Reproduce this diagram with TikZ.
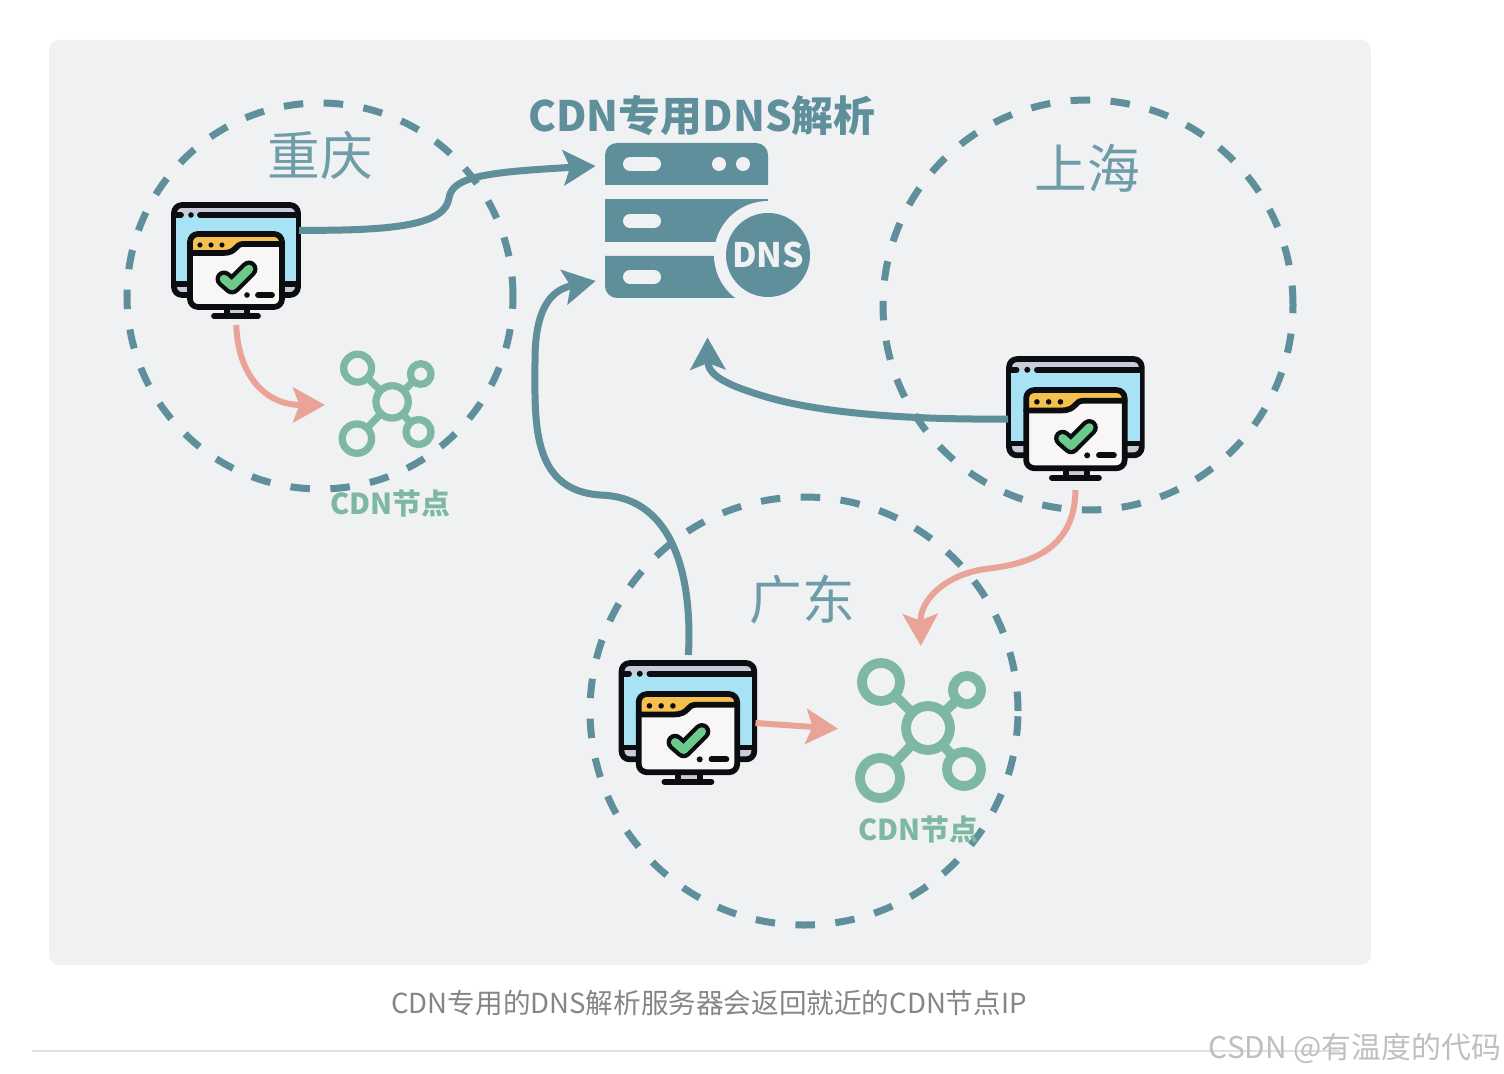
\documentclass[tikz,border=0pt]{standalone}
\usepackage{fontspec}
\setmainfont{Noto Sans CJK SC}
\usetikzlibrary{arrows.meta, positioning}
\definecolor{panelbg}{HTML}{EFF1F3}
\definecolor{dnsteal}{HTML}{5E8F9B}
\definecolor{zonetxt}{HTML}{6E9CA8}
\definecolor{cdngreen}{HTML}{7FB8A2}
\definecolor{arrowred}{HTML}{E9A397}
\definecolor{monblue}{HTML}{A8E2F5}
\definecolor{mongray}{HTML}{C9CBD9}
\definecolor{monyellow}{HTML}{F4C04E}
\definecolor{monpaper}{HTML}{F8F7F5}
\definecolor{moncheck}{HTML}{6CCB8B}
\definecolor{monink}{HTML}{0C0D10}
\tikzset{
  pics/monitor/.style={code={
    % screen
    \draw[moninkline, fill=mongray, rounded corners=1.6mm] (1,1) rectangle (125,91);
    \fill[monblue] (3,11) rectangle (123,80);
    \draw[moninkline] (2,80) -- (124,80);
    \draw[moninkline] (2,11) -- (8,11) (27,11) -- (124,11);
    \fill[monink] (18,11) circle[radius=2.8];
    % stand
    \draw[moninkline, fill=mongray] (54,100) rectangle (74,112);
    \draw[moninkline] (41,112) -- (85,112);
    % window
    \fill[monpaper, rounded corners=1.6mm] (17,30) rectangle (109,103);
    \fill[monyellow, rounded corners=1.6mm] (17,49) -- (17,30) -- (109,30) -- (109,42) -- (70,42)
      .. controls (62,42) and (64,49) .. (50,49) -- cycle;
    \draw[moninkline] (17,49) -- (50,49) .. controls (64,49) and (62,40) .. (70,40) -- (109,40);
    \draw[moninkline, rounded corners=1.6mm] (17,30) rectangle (109,103);
    \foreach \dotx in {27,38,49} \fill[monink] (\dotx,41) circle[radius=2.6];
    % check mark
    \draw[monink, line width=3.4mm, line cap=round, line join=round] (51,75) -- (59,82) -- (76,65);
    \draw[moncheck, line width=1.7mm, line cap=round, line join=round] (51,75) -- (59,82) -- (76,65);
    \fill[monink] (74,91) circle[radius=2.8];
    \draw[moninkline] (85,91) -- (99,91);
  }},
  pics/cdnicon/.style={code={
    \draw[line width=#1, cdngreen] (71,68) -- (24,22) (71,68) -- (110,30)
      (71,68) -- (23,118) (71,68) -- (107,109);
    \draw[line width=#1, cdngreen, fill=panelbg] (71,68) circle[radius=22];
    \draw[line width=#1, cdngreen, fill=panelbg] (24,22) circle[radius=19];
    \draw[line width=#1, cdngreen, fill=panelbg] (110,30) circle[radius=14];
    \draw[line width=#1, cdngreen, fill=panelbg] (23,118) circle[radius=20];
    \draw[line width=#1, cdngreen, fill=panelbg] (107,109) circle[radius=17];
  }}
}
\begin{document}
\begin{tikzpicture}[
    x=0.2mm, y=-0.2mm,
    moninkline/.style={draw=monink, line width=1.15mm, line cap=round, line join=round},
    zone/.style={circle, draw=dnsteal, line width=1.4mm, dash pattern=on 3.9mm off 4.1mm, inner sep=0pt},
    zonename/.style={text=zonetxt, font=\fontsize{30}{30}\selectfont},
    cdnname/.style={text=cdngreen, font=\fontsize{16.4}{16.4}\selectfont\bfseries},
    iconbox/.style={inner sep=0pt, outer sep=0pt},
    tealarr/.style={-{Stealth[length=6.4mm, width=7mm, inset=1.3mm]}, line width=1.4mm, dnsteal},
    redarr/.style={-{Stealth[length=6.4mm, width=7mm, inset=1.3mm]}, line width=1.2mm, arrowred}
  ]
  \useasboundingbox (0,0) rectangle (1504,1074);
  \fill[white] (0,0) rectangle (1504,1074);
  \fill[panelbg, rounded corners=2mm] (49,40) rectangle (1371,965);

  % regions
  \node[zone, minimum size=77.2mm] (cqzone) at (320,296) {};
  \node[zone, minimum size=82mm] (shzone) at (1088,305) {};
  \node[zone, minimum size=85.6mm] (gdzone) at (804,711) {};
  \node[zonename] (cqname) at (320,155) {重庆};
  \node[zonename] (shname) at (1087,168) {上海};
  \node[zonename] (gdname) at (802,600) {广东};

  % dns server
  \node[iconbox, minimum width=41mm, minimum height=31mm] (dnssrv) at (707,220) {};
  \node[text=dnsteal, font=\fontsize{23.8}{23.8}\selectfont\bfseries] (dnstitle) at (702,116) {CDN专用DNS解析};
  \fill[dnsteal, rounded corners=2.4mm] (605,185) -- (605,143) -- (768,143) -- (768,185);
  \fill[dnsteal] (605,199) rectangle (768,242);
  \fill[dnsteal, rounded corners=2.4mm] (605,256) -- (605,298) -- (768,298) -- (768,256);
  \foreach \rowy in {164,221,277}
    \draw[panelbg, line width=2.8mm, line cap=round] (630,\rowy) -- (654,\rowy);
  \fill[panelbg] (719,164) circle[radius=7] (743,164) circle[radius=7];
  \fill[panelbg] (768,255) circle[radius=54];
  \node[circle, fill=dnsteal, text=panelbg, minimum size=16.8mm, inner sep=0pt,
        font=\fontsize{19.2}{19.2}\selectfont\bfseries] (dnsbadge) at (768,255) {DNS};

  % monitors
  \node[iconbox, minimum width=25.2mm, minimum height=22.8mm] (cqmon) at (236,261) {};
  \node[iconbox, minimum width=27mm, minimum height=24.4mm] (shmon) at (1075.5,419) {};
  \node[iconbox, minimum width=27mm, minimum height=24.4mm] (gdmon) at (688,723) {};
  \pic at (cqmon.north west) {monitor};
  \pic[scale=1.07] at (shmon.north west) {monitor};
  \pic[scale=1.07] at (gdmon.north west) {monitor};

  % cdn nodes
  \node[iconbox, minimum width=18.8mm, minimum height=21.2mm] (cqcdn) at (387,405) {};
  \node[iconbox, minimum width=25.6mm, minimum height=28mm] (gdcdn) at (921,730) {};
  \pic[scale=0.734] at (cqcdn.north west) {cdnicon=1.45mm};
  \pic at (gdcdn.north west) {cdnicon=1.95mm};
  \node[cdnname] (cqcdnname) at (390,504) {CDN节点};
  \node[cdnname] (gdcdnname) at (918,830) {CDN节点};

  % routes to the dns server
  \draw[tealarr, shorten >=1.8mm] (cqmon.26) .. controls (400,231) and (445,224) .. (449,198)
    .. controls (452,176) and (490,172) .. (dnssrv.152);
  \draw[tealarr, shorten <=1.4mm, shorten >=1.8mm] (gdmon.north) .. controls (692,590) and (680,497) .. (600,495)
    .. controls (530,490) and (535,420) .. (535,360) .. controls (535,310) and (550,290) .. (dnssrv.210);
  \draw[tealarr, shorten >=8mm] (shmon.west) .. controls (900,420) and (820,412) .. (770,398)
    .. controls (725,385) and (708,375) .. (dnssrv.south);

  % routes to the cdn nodes
  \draw[redarr, shorten <=1.4mm, shorten >=3mm] (cqmon.south) .. controls (238,375) and (265,405) .. (cqcdn.west);
  \draw[redarr, shorten <=2mm, shorten >=2.8mm] (shmon.south) .. controls (1075,555) and (1020,565) .. (985,569)
    .. controls (945,575) and (920,600) .. (gdcdn.north);
  \draw[redarr, shorten >=3.8mm] (gdmon.east) -- (gdcdn.west);

  % caption and footer
  \node[text=black!48, font=\fontsize{15.7}{15.7}\selectfont] (caption) at (709,1003) {CDN专用的DNS解析服务器会返回就近的CDN节点IP};
  \coordinate (ruleleft) at (32,1051);
  \coordinate (ruleright) at (1340,1051);
  \draw[black!12, line width=0.25mm] (ruleleft) -- (ruleright);
  \node[text=black!25, font=\fontsize{17}{17}\selectfont] (watermark) at (1355,1048) {CSDN @有温度的代码};
\end{tikzpicture}
\end{document}
